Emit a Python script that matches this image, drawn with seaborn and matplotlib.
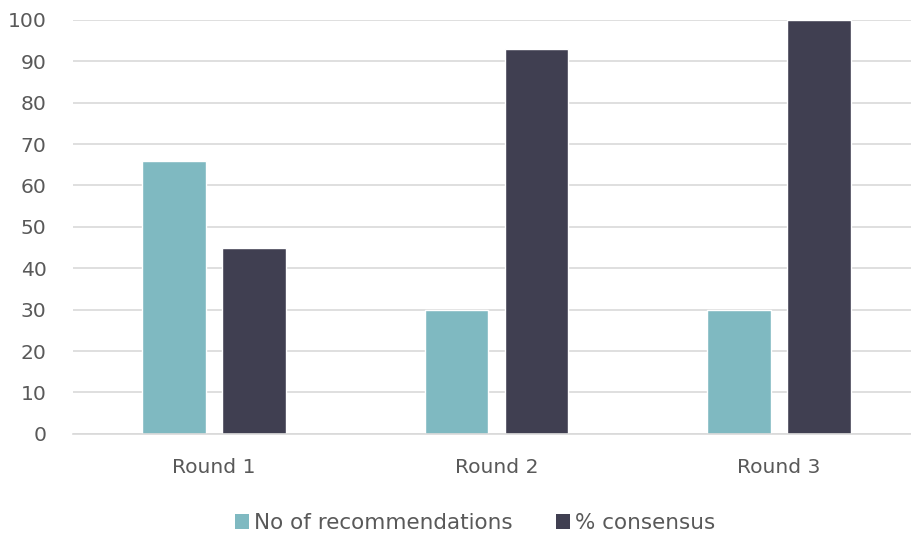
import matplotlib
matplotlib.use("Agg")
import matplotlib.pyplot as plt
import seaborn as sns
import pandas as pd
from matplotlib.patches import Patch

rounds = ["Round 1", "Round 2", "Round 3"]
series_names = ["No of recommendations", "% consensus"]
recommendations = [66, 30, 30]
consensus = [45, 93, 100]
yticks = [0, 10, 20, 30, 40, 50, 60, 70, 80, 90, 100]
colors = ["#7FB9C1", "#403F51"]

df = pd.DataFrame({
    "Round": rounds * 2,
    "Series": [series_names[0]] * 3 + [series_names[1]] * 3,
    "Value": recommendations + consensus,
})

sns.set_style("white")
plt.rcParams["font.family"] = ["DejaVu Sans"]
text_color = "#595959"
fs = 14.6

fig = plt.figure(figsize=(9.12, 5.37), dpi=100)
ax = fig.add_axes([73 / 912, 0.192, 847 / 912, 0.771])

sns.barplot(data=df, x="Round", y="Value", hue="Series", palette=colors,
            width=0.566, gap=0.205, ax=ax, legend=False, saturation=1)

ax.set_ylim(0, 100)
ax.set_xlim(-0.5, 2.5)
ax.set_yticks(yticks)
ax.set_yticklabels([str(v) for v in yticks])
ax.yaxis.grid(True, color="#D9D9D9", linewidth=1.2)
ax.set_axisbelow(True)
for s in ["top", "right", "left"]:
    ax.spines[s].set_visible(False)
ax.spines["bottom"].set_color("#D9D9D9")
ax.spines["bottom"].set_linewidth(1.2)
ax.tick_params(axis="both", length=0, labelsize=fs, colors=text_color)
ax.tick_params(axis="y", pad=19)
ax.tick_params(axis="x", pad=17)
ax.set_xlabel("")
ax.set_ylabel("")

handles = [Patch(facecolor=c, edgecolor="none") for c in colors]
fig.legend(handles, series_names, loc="center", bbox_to_anchor=(0.521, 0.026),
           ncol=2, frameon=False, fontsize=15.5, handlelength=0.65, handleheight=0.65,
           handletextpad=0.23, columnspacing=2.05, labelcolor=text_color)

fig.savefig("out.png", dpi=100)
